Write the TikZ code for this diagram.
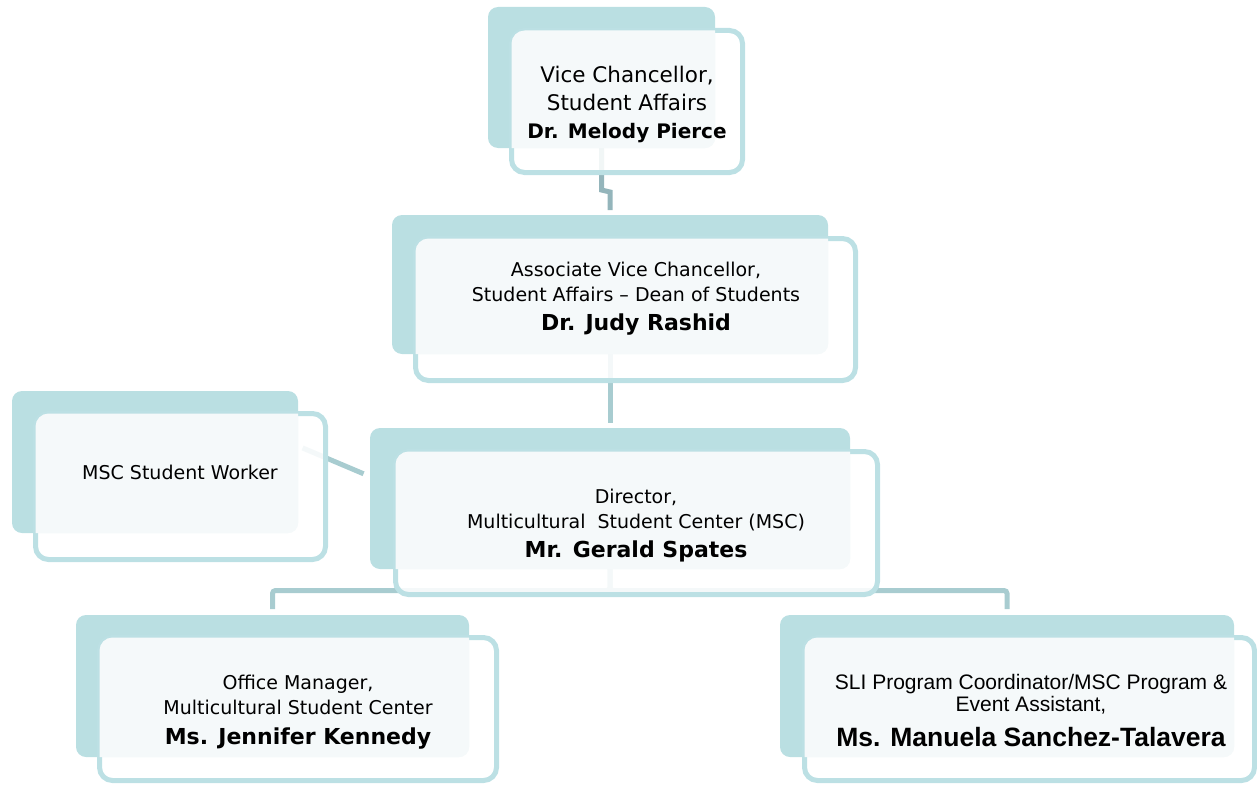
\documentclass[tikz,border=0pt]{standalone}
\usepackage{fontspec}
\setmainfont{DejaVu Sans}
\newfontfamily\arialfont{Liberation Sans}
\usepackage{tikz}
\usetikzlibrary{calc}
\usepackage{xcolor}
\definecolor{backteal}{RGB}{186,223,226}
\definecolor{frontline}{RGB}{188,224,228}
\definecolor{overlapfill}{RGB}{245,249,250}
\definecolor{linkteal}{RGB}{168,204,208}
\definecolor{linkdark}{RGB}{148,181,187}

\begin{document}
\begin{tikzpicture}[x=1pt, y=-1pt,
    backbox/.style={fill=backteal, rounded corners=10pt, inner sep=0pt, outer sep=0pt},
    frontbox/.style={draw=frontline, line width=5pt, fill=white, fill opacity=0.88,
      rounded corners=13pt, inner sep=0pt, outer sep=0pt},
    link/.style={draw=linkteal, line width=5pt},
    txt/.style={align=center, inner sep=0pt, text=black}]
    \useasboundingbox (0,0) rectangle (1257,784);
    % back cards
    \node[backbox, minimum width=227pt, minimum height=141pt] (vcBack) at (601.5,77.5) {};
    \node[backbox, minimum width=436pt, minimum height=139pt] (avcBack) at (610,284.5) {};
    \node[backbox, minimum width=286pt, minimum height=142pt] (mscBack) at (155,462) {};
    \node[backbox, minimum width=480pt, minimum height=141pt] (dirBack) at (610,498.5) {};
    \node[backbox, minimum width=393pt, minimum height=142pt] (omBack) at (272.5,686) {};
    \node[backbox, minimum width=454pt, minimum height=142pt] (sliBack) at (1007,686) {};
    % links
    \draw[link, draw=linkdark] (vcBack.south) -- ++(0,42) -- ++(8.5,2) -- ([yshift=5pt]avcBack.north);
    \draw[link] (avcBack.south) -- ([yshift=5pt]dirBack.north);
    \draw[link, shorten <=5pt, shorten >=7pt] ([yshift=16pt]mscBack.east) -- ([yshift=22pt]dirBack.west);
    \draw[link, rounded corners=3pt] (dirBack.south) -- ++(0,21.5) -| ([yshift=6pt]omBack.north);
    \draw[link, rounded corners=3pt] (dirBack.south) -- ++(0,21.5) -| ([yshift=6pt]sliBack.north);
    % front cards
    \node[frontbox, minimum width=231pt, minimum height=142pt] (vcFront) at (627,101.5) {};
    \node[frontbox, minimum width=440pt, minimum height=142pt] (avcFront) at (635.5,309.5) {};
    \node[frontbox, minimum width=290pt, minimum height=146pt] (mscFront) at (180.5,486.5) {};
    \node[frontbox, minimum width=482pt, minimum height=143pt] (dirFront) at (636.5,523) {};
    \node[frontbox, minimum width=397pt, minimum height=143pt] (omFront) at (298,709) {};
    \node[frontbox, minimum width=450pt, minimum height=143pt] (sliFront) at (1029.5,709) {};
    % where the cards overlap
    \foreach \b in {vc,avc,msc,dir,om,sli} {
      \begin{scope}
        \clip[rounded corners=10pt] (\b Back.north west) rectangle (\b Back.south east);
        \fill[overlapfill, rounded corners=13pt] (\b Front.north west) rectangle (\b Front.south east);
      \end{scope}
    }
    % texts (anchor on the last baseline)
    \node[txt, anchor=base, font=\fontsize{21.5}{28}\selectfont] (vcText) at (627,138)
      {Vice Chancellor,\\Student Affairs\\{\bfseries\fontsize{20}{28}\selectfont Dr. Melody Pierce}};
    \node[txt, anchor=base, font=\fontsize{19}{25}\selectfont] (avcText) at (636,330)
      {Associate Vice Chancellor,\\Student Affairs – Dean of Students\\[4pt]{\bfseries\fontsize{22}{28}\selectfont Dr. Judy Rashid}};
    \node[txt, anchor=base, font=\fontsize{19}{25}\selectfont] (mscText) at (180,479) {MSC Student Worker};
    \node[txt, anchor=base, font=\fontsize{19}{25}\selectfont] (dirText) at (636,557)
      {Director,\\Multicultural\ \ Student Center (MSC)\\[4pt]{\bfseries\fontsize{22}{28}\selectfont Mr. Gerald Spates}};
    \node[txt, anchor=base, font=\fontsize{19}{25}\selectfont] (omText) at (298,744)
      {Office Manager,\\Multicultural Student Center\\[5pt]{\bfseries\fontsize{22}{28}\selectfont Ms. Jennifer Kennedy}};
    \node[txt, anchor=base, font=\arialfont\fontsize{21}{22}\selectfont] (sliText) at (1031,746)
      {SLI Program Coordinator/MSC Program \&\\Event Assistant,\\[13pt]{\bfseries\fontsize{26.5}{28}\selectfont Ms. Manuela Sanchez-Talavera}};
\end{tikzpicture}
\end{document}
